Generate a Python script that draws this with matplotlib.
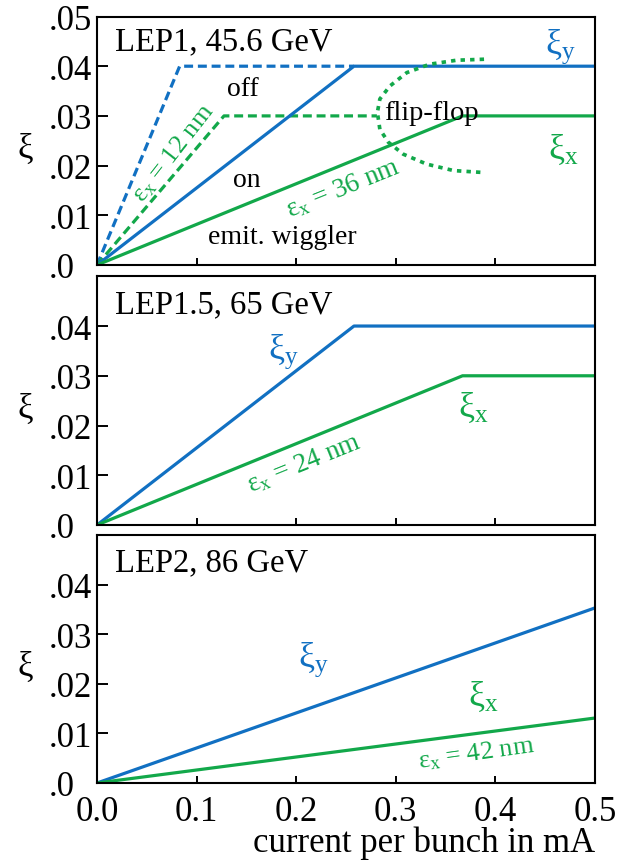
import matplotlib
matplotlib.use("Agg")
import matplotlib.pyplot as plt

# fonts: Times-like serif everywhere, upright greek in mathtext
plt.rcParams['font.family'] = ['Liberation Serif', 'DejaVu Serif']
plt.rcParams['mathtext.fontset'] = 'custom'
plt.rcParams['mathtext.rm'] = 'Liberation Serif'
plt.rcParams['mathtext.it'] = 'Liberation Serif'
plt.rcParams['mathtext.bf'] = 'Liberation Serif:bold'

BLUE = '#1170c2'
GREEN = '#12a84a'

# ---- data ----
x_ticks = [0.0, 0.1, 0.2, 0.3, 0.4, 0.5]
x_ticklabels = ['0.0', '0.1', '0.2', '0.3', '0.4', '0.5']
y_ticks_top = [0.0, 0.01, 0.02, 0.03, 0.04, 0.05]
y_ticklabels_top = ['.0', '.01', '.02', '.03', '.04', '.05']
y_ticks = [0.0, 0.01, 0.02, 0.03, 0.04]
y_ticklabels = ['.0', '.01', '.02', '.03', '.04']

# LEP1, 45.6 GeV
lep1_yoff_i = [0.0, 0.083, 0.258]
lep1_yoff = [0.0, 0.04, 0.04]
lep1_yon_i = [0.0, 0.258, 0.5]
lep1_yon = [0.0, 0.04, 0.04]
lep1_xoff_i = [0.0, 0.1275, 0.281]
lep1_xoff = [0.0, 0.03, 0.03]
lep1_xon_i = [0.0, 0.367, 0.5]
lep1_xon = [0.0, 0.03, 0.03]
flipflop_i = [0.3886, 0.361, 0.334, 0.311, 0.294, 0.284, 0.2815,
              0.284, 0.2925, 0.3075, 0.331, 0.358, 0.3886]
flipflop_xi = [0.0414, 0.0412, 0.0404, 0.0387, 0.0360, 0.0334, 0.0307,
               0.0273, 0.0247, 0.0223, 0.0203, 0.0190, 0.0186]

# LEP1.5, 65 GeV
lep15_y_i = [0.0, 0.258, 0.5]
lep15_y = [0.0, 0.04, 0.04]
lep15_x_i = [0.0, 0.367, 0.5]
lep15_x = [0.0, 0.03, 0.03]

# LEP2, 86 GeV
lep2_y_i = [0.0, 0.5]
lep2_y = [0.0, 0.0353]
lep2_x_i = [0.0, 0.5]
lep2_x = [0.0, 0.0131]

fig = plt.figure(figsize=(6.24, 8.62), dpi=100)
W, H = 624.0, 862.0
left, right = 97 / W, 595 / W

def make_ax(top_px, bot_px, yt, ytl, xlabels):
    ax = fig.add_axes([left, 1 - bot_px / H, right - left, (bot_px - top_px) / H])
    ax.set_xlim(0, 0.5)
    ax.set_ylim(0, 0.05)
    ax.set_xticks(x_ticks)
    ax.set_yticks(yt)
    ax.set_yticklabels(ytl)
    if xlabels:
        ax.set_xticklabels(x_ticklabels)
    else:
        ax.set_xticklabels([])
    ax.tick_params(axis='both', direction='in', labelsize=25, width=1.4)
    ax.tick_params(axis='x', length=5, pad=9)
    # y labels are left-aligned in a column starting ~49 px left of the spine
    ax.tick_params(axis='y', length=8, pad=35)
    for lab in ax.get_yticklabels():
        lab.set_horizontalalignment('left')
    for s in ax.spines.values():
        s.set_linewidth(1.5)
    ax.text(-0.145, 0.47, 'ξ', transform=ax.transAxes, fontsize=25,
            ha='center', va='center')
    return ax

lw = 2.3
XI = 26   # size of the xi_x / xi_y labels

# ---------- panel 1 ----------
ax1 = make_ax(17.5, 266, y_ticks_top, y_ticklabels_top, False)
ax1.plot(lep1_yoff_i, lep1_yoff, color=BLUE, lw=lw, dashes=(2.8, 1.5))
ax1.plot(lep1_xoff_i, lep1_xoff, color=GREEN, lw=lw, dashes=(2.8, 1.5))
ax1.plot(lep1_yon_i, lep1_yon, color=BLUE, lw=lw, solid_capstyle='butt')
ax1.plot(lep1_xon_i, lep1_xon, color=GREEN, lw=lw, solid_capstyle='butt')
ax1.plot(flipflop_i, flipflop_xi, color=GREEN, lw=lw * 1.15, dashes=(1.2, 1.4))
ax1.text(0.036, 0.90, 'LEP1, 45.6 GeV', transform=ax1.transAxes,
         fontsize=23.5, ha='left', va='center')
ax1.text(0.1466, 0.0356, 'off', fontsize=20, ha='center', va='center')
ax1.text(0.150, 0.0173, 'on', fontsize=20, ha='center', va='center')
ax1.text(0.186, 0.0058, 'emit. wiggler', fontsize=20, ha='center', va='center')
ax1.text(0.336, 0.0307, 'flip-flop', fontsize=20.5, ha='center', va='center')
ax1.text(0.0765, 0.0227, r'$\varepsilon_{\mathrm{x}}$ = 12 nm', color=GREEN,
         fontsize=19, ha='center', va='center', rotation=52,
         rotation_mode='anchor')
ax1.text(0.247, 0.0155, r'$\varepsilon_{\mathrm{x}}$ = 36 nm', color=GREEN,
         fontsize=19.5, ha='center', va='center', rotation=22,
         rotation_mode='anchor')
ax1.text(0.465, 0.0442, r'$\xi_{\mathrm{y}}$', color=BLUE, fontsize=XI,
         ha='center', va='center')
ax1.text(0.468, 0.0233, r'$\xi_{\mathrm{x}}$', color=GREEN, fontsize=XI,
         ha='center', va='center')

# ---------- panel 2 ----------
ax2 = make_ax(277.3, 526, y_ticks, y_ticklabels, False)
ax2.plot(lep15_y_i, lep15_y, color=BLUE, lw=lw)
ax2.plot(lep15_x_i, lep15_x, color=GREEN, lw=lw)
ax2.text(0.036, 0.888, 'LEP1.5, 65 GeV', transform=ax2.transAxes,
         fontsize=23.5, ha='left', va='center')
ax2.text(0.187, 0.035, r'$\xi_{\mathrm{y}}$', color=BLUE, fontsize=XI,
         ha='center', va='center')
ax2.text(0.378, 0.0237, r'$\xi_{\mathrm{x}}$', color=GREEN, fontsize=XI,
         ha='center', va='center')
ax2.text(0.208, 0.0125, r'$\varepsilon_{\mathrm{x}}$ = 24 nm', color=GREEN,
         fontsize=19.5, ha='center', va='center', rotation=22,
         rotation_mode='anchor')

# ---------- panel 3 ----------
ax3 = make_ax(536, 784, y_ticks, y_ticklabels, True)
ax3.plot(lep2_y_i, lep2_y, color=BLUE, lw=lw)
ax3.plot(lep2_x_i, lep2_x, color=GREEN, lw=lw)
ax3.text(0.036, 0.89, 'LEP2, 86 GeV', transform=ax3.transAxes,
         fontsize=23.5, ha='left', va='center')
ax3.text(0.217, 0.025, r'$\xi_{\mathrm{y}}$', color=BLUE, fontsize=XI,
         ha='center', va='center')
ax3.text(0.388, 0.0175, r'$\xi_{\mathrm{x}}$', color=GREEN, fontsize=XI,
         ha='center', va='center')
ax3.text(0.381, 0.0062, r'$\varepsilon_{\mathrm{x}}$ = 42 nm', color=GREEN,
         fontsize=19, ha='center', va='center', rotation=8,
         rotation_mode='anchor')

fig.text(right, 1 - 843 / H, 'current per bunch in mA', fontsize=25,
         ha='right', va='center')

fig.savefig('out.png', dpi=100)
